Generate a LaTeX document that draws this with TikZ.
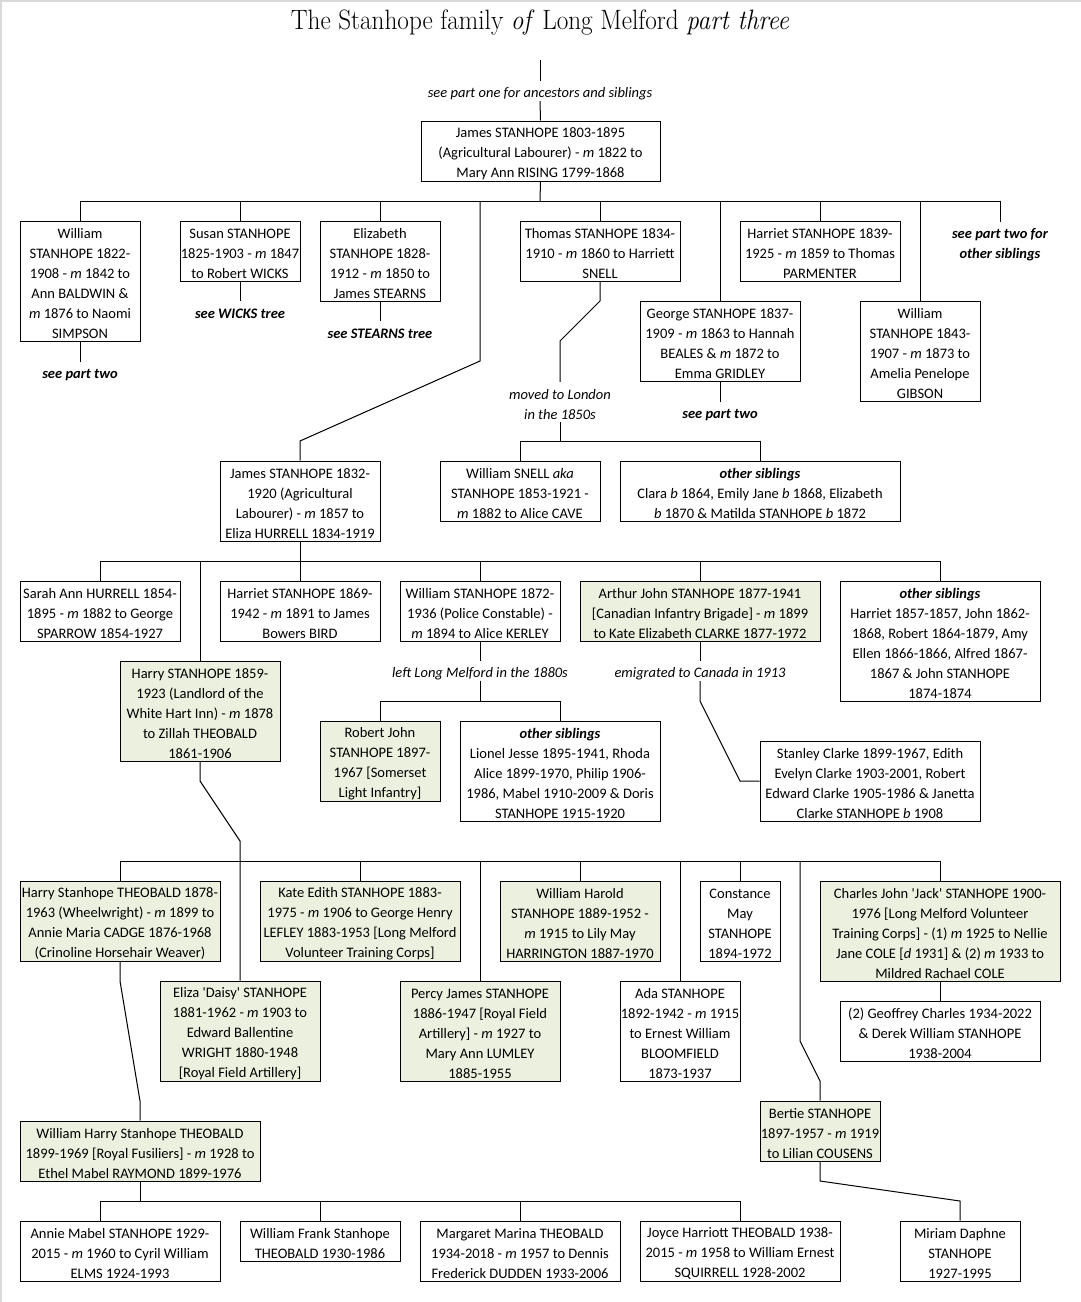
\documentclass[tikz,border=0pt]{standalone}
\usepackage{fontspec}
\newfontfamily\carlitofont{Carlito}
\definecolor{boxgreen}{HTML}{EBF1DE}
\newcommand\bodyfont{\carlitofont\fontsize{14.5}{20}\selectfont}
\newcommand\mm{\textit{m}}
\newcommand\fs{\rule{0pt}{15pt}}
\newcommand\oths{\textbf{\textit{other siblings}}}
\begin{document}
\begin{tikzpicture}[x=1pt,y=-1pt,
  every node/.style={font=\bodyfont, align=center, inner sep=0pt},
  pbox/.style={draw, line width=1pt, fill=white},
  gbox/.style={pbox, fill=boxgreen},
  lbl/.style={font=\bodyfont\itshape, minimum height=20},
  blbl/.style={font=\bodyfont\bfseries\itshape, minimum height=20},
  conn/.style={line width=1pt}]
\fill[white] (0,0) rectangle (1081,1302);
\useasboundingbox (0,0) rectangle (1081,1302);
\draw[black!15, line width=2] (1,1302) -- (1,1) -- (1081,1);

% title
\node[font=\fontsize{28}{32}\selectfont] (title) at (540,22) {\scalebox{0.9}[1]{The Stanhope family \textit{of} Long Melford \textit{part three}}};

% generation 1
\coordinate (top) at (540,60);
\node[lbl] (seeone) at (540,91) {\fs see part one for ancestors and siblings};
\node[pbox, minimum width=239, minimum height=60] (j1) at (540.5,151) {\fs James STANHOPE 1803-1895\\(Agricultural Labourer) - \mm{} 1822 to\\Mary Ann RISING 1799-1868};
\draw[conn] (top) -- (seeone.north);
\draw[conn] (seeone.south) -- (j1.north);
\coordinate (bar1) at (540,201);

\node[pbox, minimum width=120, minimum height=120] (wil1) at (80,281) {\fs William\\STANHOPE 1822-\\1908 - \mm{} 1842 to\\Ann BALDWIN \&\\\mm{} 1876 to Naomi\\SIMPSON};
\node[blbl] (sp2a) at (80,372) {\fs see part two};
\node[pbox, minimum width=120, minimum height=60] (sus) at (240,251) {\fs Susan STANHOPE\\1825-1903 - \mm{} 1847\\to Robert WICKS};
\node[blbl] (wicks) at (240,311) {\fs see WICKS tree};
\node[pbox, minimum width=120, minimum height=80] (eli) at (380,261) {\fs Elizabeth\\STANHOPE 1828-\\1912 - \mm{} 1850 to\\James STEARNS};
\node[blbl] (stearns) at (380,331) {\fs see STEARNS tree};
\node[pbox, minimum width=160, minimum height=60] (tho) at (600,251) {\fs Thomas STANHOPE 1834-\\1910 - \mm{} 1860 to Harriett\\SNELL};
\node[pbox, minimum width=160, minimum height=80] (geo) at (720,341) {\fs George STANHOPE 1837-\\1909 - \mm{} 1863 to Hannah\\BEALES \& \mm{} 1872 to\\Emma GRIDLEY};
\node[blbl] (sp2b) at (720,412) {\fs see part two};
\node[pbox, minimum width=160, minimum height=60] (har1) at (820,251) {\fs Harriet STANHOPE 1839-\\1925 - \mm{} 1859 to Thomas\\PARMENTER};
\node[pbox, minimum width=120, minimum height=100] (wil2) at (920,351) {\fs William\\STANHOPE 1843-\\1907 - \mm{} 1873 to\\Amelia Penelope\\GIBSON};
\node[blbl, minimum height=40] (sp2oth) at (1000,242) {\fs see part two for\\other siblings};

\draw[conn] (j1.south) -- (bar1);
\draw[conn] (wil1.north) -- (wil1.north |- bar1) -- (sp2oth.north |- bar1) -- (sp2oth.north);
\foreach \n in {sus,eli,tho,geo,har1,wil2} \draw[conn] (\n.north) -- (\n.north |- bar1);
\draw[conn] (wil1.south) -- (sp2a.north);
\draw[conn] (sus.south) -- (wicks.north);
\draw[conn] (eli.south) -- (stearns.north);
\draw[conn] (geo.south) -- (sp2b.north);

% generation 2
\node[pbox, minimum width=160, minimum height=80] (j2) at (300,501) {\fs James STANHOPE 1832-\\1920 (Agricultural\\Labourer) - \mm{} 1857 to\\Eliza HURRELL 1834-1919};
\coordinate (jb1) at (300,441);
\coordinate (jb2) at (480,361);
\draw[conn] (j2.north) -- (jb1) -- (jb2) -- (jb2 |- bar1);

\coordinate (tb1) at (600,301);
\coordinate (tb2) at (560,341);
\node[lbl, minimum height=40] (moved) at (560,402) {\fs moved to London\\in the 1850s};
\draw[conn] (tho.south) -- (tb1) -- (tb2) -- (moved.north);
\coordinate (bar3) at (560,441);
\node[pbox, minimum width=160, minimum height=60] (snell) at (520,491) {\fs William SNELL \textit{aka}\\STANHOPE 1853-1921 -\\\mm{} 1882 to Alice CAVE};
\node[pbox, minimum width=280, minimum height=60] (oth3) at (760,491) {\fs\oths\\Clara \textit{b} 1864, Emily Jane \textit{b} 1868, Elizabeth\\\textit{b} 1870 \& Matilda STANHOPE \textit{b} 1872};
\draw[conn] (moved.south) -- (bar3);
\draw[conn] (snell.north) -- (snell.north |- bar3) -- (oth3.north |- bar3) -- (oth3.north);

% generation 3
\coordinate (bar2) at (300,561);
\node[pbox, minimum width=160, minimum height=60] (sarah) at (100,611) {\fs Sarah Ann HURRELL 1854-\\1895 - \mm{} 1882 to George\\SPARROW 1854-1927};
\node[gbox, minimum width=160, minimum height=100] (harry) at (200,711) {\fs Harry STANHOPE 1859-\\1923 (Landlord of the\\White Hart Inn) - \mm{} 1878\\to Zillah THEOBALD\\1861-1906};
\node[pbox, minimum width=160, minimum height=60] (har2) at (300,611) {\fs Harriet STANHOPE 1869-\\1942 - \mm{} 1891 to James\\Bowers BIRD};
\node[pbox, minimum width=160, minimum height=60] (wil3) at (480,611) {\fs William STANHOPE 1872-\\1936 (Police Constable) -\\\mm{} 1894 to Alice KERLEY};
\node[gbox, minimum width=240, minimum height=60] (arthur) at (700,611) {\fs Arthur John STANHOPE 1877-1941\\{[}Canadian Infantry Brigade{]} - \mm{} 1899\\to Kate Elizabeth CLARKE 1877-1972};
\node[pbox, minimum width=200, minimum height=120] (oth2) at (940,641) {\fs\oths\\Harriet 1857-1857, John 1862-\\1868, Robert 1864-1879, Amy\\Ellen 1866-1866, Alfred 1867-\\1867 \& John STANHOPE\\1874-1874};
\draw[conn] (j2.south) -- (bar2);
\draw[conn] (sarah.north) -- (sarah.north |- bar2) -- (oth2.north |- bar2) -- (oth2.north);
\foreach \n in {harry,har2,wil3,arthur} \draw[conn] (\n.north) -- (\n.north |- bar2);

\node[lbl] (leftlm) at (480,671) {\fs left Long Melford in the 1880s};
\draw[conn] (wil3.south) -- (leftlm.north);
\coordinate (bar6) at (480,701);
\draw[conn] (leftlm.south) -- (bar6);
\node[gbox, minimum width=120, minimum height=80] (robert) at (380,761) {\fs Robert John\\STANHOPE 1897-\\1967 {[}Somerset\\Light Infantry{]}};
\node[pbox, minimum width=200, minimum height=100] (oth1) at (560,771) {\fs\oths\\Lionel Jesse 1895-1941, Rhoda\\Alice 1899-1970, Philip 1906-\\1986, Mabel 1910-2009 \& Doris\\STANHOPE 1915-1920};
\draw[conn] (robert.north) -- (robert.north |- bar6) -- (oth1.north |- bar6) -- (oth1.north);

\node[lbl] (emig) at (700,671) {\fs emigrated to Canada in 1913};
\draw[conn] (arthur.south) -- (emig.north);
\node[pbox, minimum width=220, minimum height=80] (stanley) at (870,781) {\fs Stanley Clarke 1899-1967, Edith\\Evelyn Clarke 1903-2001, Robert\\Edward Clarke 1905-1986 \& Janetta\\Clarke STANHOPE \textit{b} 1908};
\coordinate (eb1) at (700,701);
\coordinate (eb2) at (740,781);
\draw[conn] (emig.south) -- (eb1) -- (eb2) -- (stanley.west);

% generation 4
\coordinate (hb1) at (200,781);
\coordinate (hb2) at (240,841);
\coordinate (bar4) at (240,861);
\node[gbox, minimum width=200, minimum height=80] (hst) at (120,921) {\fs Harry Stanhope THEOBALD 1878-\\1963 (Wheelwright) - \mm{} 1899 to\\Annie Maria CADGE 1876-1968\\(Crinoline Horsehair Weaver)};
\node[gbox, minimum width=160, minimum height=100] (daisy) at (240,1031) {\fs Eliza \textquotesingle Daisy\textquotesingle{} STANHOPE\\1881-1962 - \mm{} 1903 to\\Edward Ballentine\\WRIGHT 1880-1948\\{[}Royal Field Artillery{]}};
\node[gbox, minimum width=200, minimum height=80] (kate) at (360,921) {\fs Kate Edith STANHOPE 1883-\\1975 - \mm{} 1906 to George Henry\\LEFLEY 1883-1953 {[}Long Melford\\Volunteer Training Corps{]}};
\node[gbox, minimum width=160, minimum height=100] (percy) at (480,1031) {\fs Percy James STANHOPE\\1886-1947 {[}Royal Field\\Artillery{]} - \mm{} 1927 to\\Mary Ann LUMLEY\\1885-1955};
\node[gbox, minimum width=160, minimum height=80] (wharold) at (580,921) {\fs William Harold\\STANHOPE 1889-1952 -\\\mm{} 1915 to Lily May\\HARRINGTON 1887-1970};
\node[pbox, minimum width=120, minimum height=100] (ada) at (680,1031) {\fs Ada STANHOPE\\1892-1942 - \mm{} 1915\\to Ernest William\\BLOOMFIELD\\1873-1937};
\node[pbox, minimum width=80, minimum height=80] (constance) at (740,921) {\fs Constance\\May\\STANHOPE\\1894-1972};
\node[gbox, minimum width=240, minimum height=100] (charles) at (940,931) {\fs Charles John \textquotesingle Jack\textquotesingle{} STANHOPE 1900-\\1976 {[}Long Melford Volunteer\\Training Corps{]} - (1) \mm{} 1925 to Nellie\\Jane COLE [\textit{d} 1931] \& (2) \mm{} 1933 to\\Mildred Rachael COLE};
\node[pbox, minimum width=200, minimum height=60] (geoff) at (940,1031) {\fs (2) Geoffrey Charles 1934-2022\\\& Derek William STANHOPE\\1938-2004};
\node[gbox, minimum width=120, minimum height=60] (bertie) at (820,1131) {\fs Bertie STANHOPE\\1897-1957 - \mm{} 1919\\to Lilian COUSENS};
\coordinate (bb1) at (800,1041);
\coordinate (bb2) at (820,1081);

\draw[conn] (harry.south) -- (hb1) -- (hb2) -- (daisy.north);
\draw[conn] (hst.north) -- (hst.north |- bar4) -- (charles.north |- bar4) -- (charles.north);
\foreach \n in {kate,percy,wharold,ada,constance} \draw[conn] (\n.north) -- (\n.north |- bar4);
\draw[conn] (bb1 |- bar4) -- (bb1) -- (bb2) -- (bertie.north);
\draw[conn] (charles.south) -- (geoff.north);

% generation 5
\coordinate (wb1) at (120,981);
\coordinate (wb2) at (140,1101);
\node[gbox, minimum width=240, minimum height=60] (whst) at (140,1151) {\fs William Harry Stanhope THEOBALD\\1899-1969 {[}Royal Fusiliers{]} - \mm{} 1928 to\\Ethel Mabel RAYMOND 1899-1976};
\draw[conn] (hst.south) -- (wb1) -- (wb2) -- (whst.north);
\coordinate (bar5) at (140,1201);
\coordinate (bar5L) at (100,1201);
\node[pbox, minimum width=200, minimum height=60] (annie) at (120,1251) {\fs Annie Mabel STANHOPE 1929-\\2015 - \mm{} 1960 to Cyril William\\ELMS 1924-1993};
\node[pbox, minimum width=160, minimum height=40] (wfrank) at (320,1241) {\fs William Frank Stanhope\\THEOBALD 1930-1986};
\node[pbox, minimum width=200, minimum height=60] (marg) at (520,1251) {\fs Margaret Marina THEOBALD\\1934-2018 - \mm{} 1957 to Dennis\\Frederick DUDDEN 1933-2006};
\node[pbox, minimum width=200, minimum height=60] (joyce) at (740,1251) {\fs Joyce Harriott THEOBALD 1938-\\2015 - \mm{} 1958 to William Ernest\\SQUIRRELL 1928-2002};
\node[pbox, minimum width=120, minimum height=60] (miriam) at (960,1251) {\fs Miriam Daphne\\STANHOPE\\1927-1995};
\draw[conn] (whst.south) -- (bar5);
\draw[conn] (bar5L |- annie.north) -- (bar5L) -- (joyce.north |- bar5L) -- (joyce.north);
\foreach \n in {wfrank,marg} \draw[conn] (\n.north) -- (\n.north |- bar5);
\coordinate (mb1) at (820,1181);
\coordinate (mb2) at (960,1201);
\draw[conn] (bertie.south) -- (mb1) -- (mb2) -- (miriam.north);
\end{tikzpicture}
\end{document}
